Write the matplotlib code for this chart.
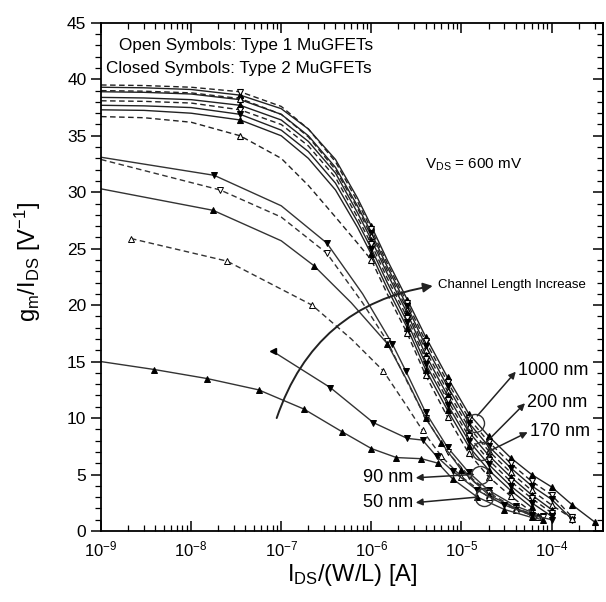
import numpy as np
import matplotlib
matplotlib.use('Agg')
import matplotlib.pyplot as plt
from matplotlib.ticker import MultipleLocator, LogLocator, NullFormatter

nan = np.nan

# ── Data ──────────────────────────────────────────────────────────────────────
# upper bundle of curves share one current grid
X_GRID = [1e-9, 3e-9, 1e-8, 3.5e-8, 1e-7, 2e-7, 4e-7, 7e-7, 1e-6, 1.5e-6,
          2.5e-6, 4e-6, 7e-6, 1.2e-5, 2e-5, 3.5e-5, 6e-5, 1e-4, 1.7e-4, 3e-4]

T1 = [39.3, 39.25, 39.1, 38.6, 37.4, 35.6, 32.9, 29.5, 27.0, 24.0, 20.5, 17.2, 13.6, 10.4, 8.4, 6.5, 5.0, 3.9, 2.3, 0.8]
T2 = [39.5, 39.45, 39.3, 38.9, 37.6, 35.6, 32.7, 29.2, 26.7, 23.7, 20.2, 16.8, 13.2, 10.0, 7.9, 6.0, 4.4, 3.2, 1.2, nan]
T3 = [38.9, 38.85, 38.7, 38.2, 36.9, 35.0, 32.2, 28.8, 26.4, 23.4, 19.9, 16.4, 12.8, 9.6, 7.5, 5.6, 4.0, 2.8, 1.0, nan]
T4 = [39.0, 38.95, 38.8, 38.3, 36.9, 34.9, 32.0, 28.6, 26.1, 23.1, 19.6, 16.0, 12.4, 9.2, 7.1, 5.2, 3.6, 2.3, 1.1, nan]
T5 = [38.4, 38.35, 38.2, 37.7, 36.4, 34.5, 31.7, 28.2, 25.8, 22.8, 19.3, 15.6, 12.0, 8.8, 6.7, 4.8, 3.2, 1.9, nan, nan]
T6 = [38.1, 38.05, 37.9, 37.3, 36.0, 34.1, 31.3, 27.8, 25.4, 22.4, 18.9, 15.2, 11.6, 8.4, 6.3, 4.4, 2.9, 1.6, nan, nan]
T7 = [37.7, 37.65, 37.5, 36.9, 35.5, 33.6, 30.8, 27.4, 25.0, 22.0, 18.5, 14.8, 11.2, 8.0, 5.9, 4.0, 2.5, 1.3, nan, nan]
T8 = [37.3, 37.25, 37.0, 36.4, 35.0, 33.0, 30.2, 26.9, 24.5, 21.5, 18.0, 14.3, 10.7, 7.5, 5.4, 3.6, 2.1, nan, nan, nan]
T9 = [36.7, 36.6, 36.2, 35.0, 33.0, 30.6, 27.8, 25.5, 24.0, 21.0, 17.5, 13.8, 10.1, 6.9, 4.8, 3.1, 1.7, nan, nan, nan]

BUNDLE = [T1, T2, T3, T4, T5, T6, T7, T8, T9]
BUNDLE_LS = ['-', '--', '-', '--', '-', '--', '-', '-', '--']
BUNDLE_MK = ['^', 'v', 'v', '^', '^', 'v', 'v', '^', '^']
BUNDLE_MARKS = [3, 8, 10, 11, 12, 13, 14, 15, 16, 17, 18, 19]

# shorter channels, each with its own current points
XA = [1e-9, 1.8e-8, 1e-7, 3.2e-7, 8e-7, 1.7e-6, 2.4e-6, 4e-6, 7e-6, 1.2e-5, 2e-5, 4e-5, 8e-5]
YA = [33.1, 31.5, 28.8, 25.5, 21.0, 16.6, 14.2, 10.5, 7.4, 5.2, 3.6, 2.2, 1.3]
XB = [1e-9, 2.1e-8, 1e-7, 3.2e-7, 8e-7, 1.5e-6, 2.5e-6, 4e-6, 7e-6, 1.2e-5, 2e-5, 4e-5, 8e-5]
YB = [32.9, 30.2, 27.8, 24.6, 20.2, 16.8, 13.2, 10.0, 7.0, 4.9, 3.4, 2.0, 1.2]
XC = [1e-9, 1.75e-8, 1e-7, 2.3e-7, 6e-7, 1.5e-6, 2.5e-6, 4e-6, 6e-6, 1e-5, 2e-5, 4e-5, 7e-5]
YC = [30.3, 28.4, 25.7, 23.5, 20.2, 16.6, 13.3, 10.0, 7.8, 5.4, 3.2, 2.0, 1.3]
XD = [2.15e-9, 2.5e-8, 2.2e-7, 6e-7, 1.35e-6, 2.5e-6, 3.7e-6, 6e-6, 1e-5, 2e-5, 4e-5, 7e-5]
YD = [25.9, 23.9, 20.0, 17.0, 14.2, 11.0, 8.9, 6.6, 4.8, 3.0, 1.9, 1.2]
XE = [1e-9, 3.9e-9, 1.5e-8, 5.6e-8, 1.78e-7, 4.7e-7, 1e-6, 1.9e-6, 3.6e-6, 5.5e-6, 8e-6, 1.5e-5, 3e-5, 6e-5, 8e-5]
YE = [15.0, 14.3, 13.5, 12.5, 10.8, 8.8, 7.3, 6.5, 6.4, 6.0, 4.6, 3.0, 1.9, 1.2, 1.0]
XF = [8.1e-8, 3.5e-7, 1.05e-6, 2.5e-6, 3.7e-6, 5.3e-6, 8e-6, 1.5e-5, 3e-5, 6e-5, 1e-4]
YF = [15.9, 12.7, 9.6, 8.2, 8.05, 6.6, 5.3, 3.6, 2.3, 1.4, 1.0]

LOWER = [(XA, YA, '-', 'v', True, [1, 3, 5, 6, 7, 8, 9, 10, 11, 12]),
         (XB, YB, '--', 'v', False, [1, 3, 5, 7, 8, 9, 10, 11, 12]),
         (XC, YC, '-', '^', True, [1, 3, 5, 7, 8, 9, 10, 11, 12]),
         (XD, YD, '--', '^', False, [0, 1, 2, 4, 6, 7, 8, 9, 10, 11]),
         (XE, YE, '-', '^', True, list(range(1, 15))),
         (XF, YF, '-', 'v', True, list(range(1, 11)))]

# circled points and their labels
CIRCLE_X = [1.4e-5, 1.65e-5, 1.6e-5, 1.8e-5]
CIRCLE_Y = [9.6, 7.1, 5.0, 3.0]
LABELS = ['1000 nm', '200 nm', '170 nm', '90 nm', '50 nm']
LABEL_TEXT_XY = [(4.1e-5, 14.2), (5.2e-5, 11.4), (5.6e-5, 8.8), (3.0e-6, 4.7), (3.0e-6, 2.5)]
LABEL_ARROW_FROM = [(1.5e-5, 10.2), (1.8e-5, 7.7), (1.95e-5, 7.0), (1.35e-5, 5.0), (1.5e-5, 3.0)]

# ── Plot ──────────────────────────────────────────────────────────────────────
plt.rcParams['font.family'] = ['Liberation Sans', 'DejaVu Sans']
plt.rcParams['mathtext.default'] = 'regular'

fig = plt.figure(figsize=(6.06, 6.02), dpi=100)
ax = fig.add_axes([0.1667, 0.118, 0.828, 0.844])

for ys, ls, mk in zip(BUNDLE, BUNDLE_LS, BUNDLE_MK):
    filled = ls == '-'
    ax.plot(X_GRID, ys, ls=ls, color='#222222', lw=1.0,
            dashes=(4, 2.5) if ls == '--' else (None, None),
            marker=mk, markersize=5, markevery=BUNDLE_MARKS,
            mfc='black' if filled else 'white', mec='black', mew=0.8)

for xs, ys, ls, mk, filled, marks in LOWER:
    line, = ax.plot(xs, ys, ls=ls, color='#333333', lw=1.0,
                    marker=mk, markersize=5, markevery=marks,
                    mfc='black' if filled else 'white', mec='black', mew=0.7)
    if ls == '--':
        line.set_dashes((4, 2.5))

# start marker of the 50 nm type-2 curve points left
ax.plot(XF[0], YF[0], marker='<', markersize=5, color='black', ls='none')

ax.plot(CIRCLE_X, CIRCLE_Y, 'o', ms=13, mfc='none', mec='#333333', mew=1.0, zorder=5)

for lab, (tx, ty), (fx, fy) in zip(LABELS, LABEL_TEXT_XY, LABEL_ARROW_FROM):
    ha = 'left' if tx > 2e-5 else 'right'
    ax.annotate('', xy=(tx, ty), xytext=(fx, fy),
                arrowprops=dict(arrowstyle='-|>', color='#222222', lw=1.1,
                                mutation_scale=10, shrinkA=0, shrinkB=1))
    ax.text(tx * (1.03 if ha == 'left' else 0.97), ty, lab, ha=ha, va='center',
            fontsize=13)

# channel length increase arrow
ax.annotate('', xy=(4.8e-6, 21.7), xytext=(8.9e-8, 10.0),
            arrowprops=dict(arrowstyle='-|>', color='#222222', lw=1.4,
                            mutation_scale=14, shrinkA=0, shrinkB=0,
                            connectionstyle='arc3,rad=-0.3'))
ax.text(5.5e-6, 21.8, 'Channel Length Increase', fontsize=9.5, va='center', ha='left')

ax.text(3.9e-6, 32.4, '$V_{DS}$ = 600 mV', fontsize=11, va='center', ha='left')
ax.text(0.29, 0.955, 'Open Symbols: Type 1 MuGFETs', transform=ax.transAxes,
        fontsize=12.3, ha='center', va='center')
ax.text(0.275, 0.91, 'Closed Symbols: Type 2 MuGFETs', transform=ax.transAxes,
        fontsize=12.3, ha='center', va='center')

ax.set_xscale('log')
ax.set_xlim(1e-9, 3.7e-4)
ax.set_ylim(0, 45)
ax.yaxis.set_major_locator(MultipleLocator(5))
ax.yaxis.set_minor_locator(MultipleLocator(1))
ax.xaxis.set_major_locator(LogLocator(base=10, numticks=12))
ax.xaxis.set_minor_locator(LogLocator(base=10, subs=np.arange(2, 10), numticks=12))
ax.xaxis.set_minor_formatter(NullFormatter())

ax.tick_params(axis='x', which='both', direction='in', top=True, labelsize=12, pad=6)
ax.tick_params(axis='x', which='major', length=7, width=1.1)
ax.tick_params(axis='x', which='minor', length=4, width=0.9)
ax.tick_params(axis='y', which='both', direction='out', labelsize=12.5)
ax.tick_params(axis='y', which='major', length=7, width=1.1)
ax.tick_params(axis='y', which='minor', length=4, width=0.9)

sec = ax.secondary_yaxis('right')
sec.yaxis.set_major_locator(MultipleLocator(5))
sec.yaxis.set_minor_locator(MultipleLocator(1))
sec.tick_params(which='both', direction='in', labelright=False)
sec.tick_params(which='major', length=7, width=1.1)
sec.tick_params(which='minor', length=4, width=0.9)
sec.spines['right'].set_linewidth(1.3)

for s in ax.spines.values():
    s.set_linewidth(1.3)

ax.set_xlabel('$I_{DS}$/(W/L) [A]', fontsize=17, labelpad=2)
ax.set_ylabel('$g_m$/$I_{DS}$ [V$^{-1}$]', fontsize=17)
ax.yaxis.set_label_coords(-0.115, 0.53)

fig.savefig('out.png', dpi=100)
